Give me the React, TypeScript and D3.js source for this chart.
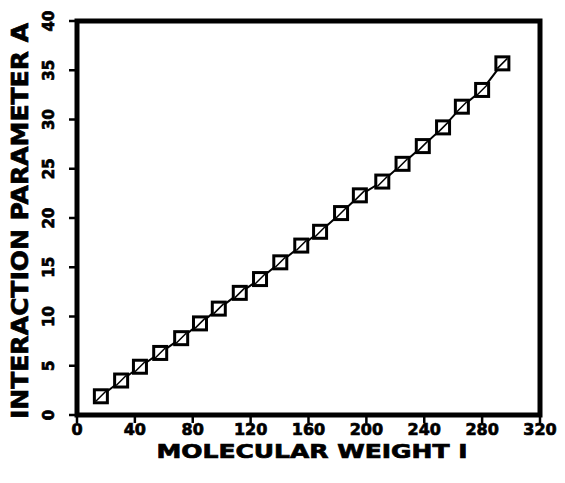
import React from 'react'
import * as d3 from 'd3'

const molWeight = [16.5, 30.5, 43.5, 57.5, 72, 85, 98, 112.5, 126.5, 140.5, 155, 168, 182.5, 195.5, 211, 225, 239, 253, 266, 280, 294]
const paramA = [1.9, 3.5, 4.9, 6.3, 7.8, 9.3, 10.8, 12.4, 13.8, 15.5, 17.2, 18.6, 20.5, 22.3, 23.7, 25.5, 27.3, 29.2, 31.3, 33.0, 35.7]
const xTicks = [0, 40, 80, 120, 160, 200, 240, 280, 320]
const yTicks = [0, 5, 10, 15, 20, 25, 30, 35, 40]

const W = 565
const H = 483
const FONT = "'DejaVu Sans', 'Liberation Sans', sans-serif"

export default function App() {
  const x = d3.scaleLinear().domain([0, 320]).range([77, 540])
  const y = d3.scaleLinear().domain([0, 40]).range([415, 21])

  const pts = molWeight.map((m, i) => [m, paramA[i]] as [number, number])
  const line = d3.line<[number, number]>()
    .x(d => x(d[0]))
    .y(d => y(d[1]))

  const textStyle = { fontFamily: FONT, fontWeight: 'bold' as const, fill: '#000', stroke: '#000', strokeWidth: 0.7 }

  return (
    <svg width={W} height={H} style={{ position: 'absolute', left: 0, top: 0, background: '#fff' }}>
      {/* frame */}
      <rect x={x(0)} y={y(40)} width={x(320) - x(0)} height={y(0) - y(40)}
        fill="none" stroke="#000" strokeWidth={5} />

      {/* x ticks */}
      {xTicks.map(t => (
        <g key={'xt' + t}>
          <line x1={x(t)} x2={x(t)} y1={y(0)} y2={y(0) + 8} stroke="#000" strokeWidth={2.5} />
          <text x={x(t)} y={435} textAnchor="middle" fontSize={16} style={textStyle}>{t}</text>
        </g>
      ))}

      {/* y ticks, labels turned to read upward */}
      {yTicks.map(t => (
        <g key={'yt' + t}>
          <line x1={x(0) - 8} x2={x(0)} y1={y(t)} y2={y(t)} stroke="#000" strokeWidth={2.5} />
          <g transform={`translate(54,${y(t)})`}>
            <text transform="rotate(-90)" x={0} y={0} textAnchor="middle" fontSize={15} style={textStyle}>{t}</text>
          </g>
        </g>
      ))}

      {/* axis titles */}
      <text x={312} y={458} textAnchor="middle" fontSize={19} textLength={311} lengthAdjust="spacingAndGlyphs" style={textStyle}>
        MOLECULAR WEIGHT I
      </text>
      <g transform="translate(28,221)">
        <text transform="rotate(-90)" textAnchor="middle" fontSize={23} textLength={396} lengthAdjust="spacingAndGlyphs" style={textStyle}>
          INTERACTION PARAMETER A
        </text>
      </g>

      {/* curve */}
      <path d={line(pts) || ''} fill="none" stroke="#000" strokeWidth={2} />

      {/* markers */}
      {pts.map((d, i) => (
        <rect key={'m' + i} x={x(d[0]) - 6.5} y={y(d[1]) - 6.5} width={13} height={13}
          fill="#fff" stroke="#000" strokeWidth={3} />
      ))}
      {pts.map((d, i) => (
        <line key={'c' + i} x1={x(d[0]) - 5} y1={y(d[1]) + 5} x2={x(d[0]) + 5} y2={y(d[1]) - 5}
          stroke="#000" strokeWidth={1.5} />
      ))}
    </svg>
  )
}
